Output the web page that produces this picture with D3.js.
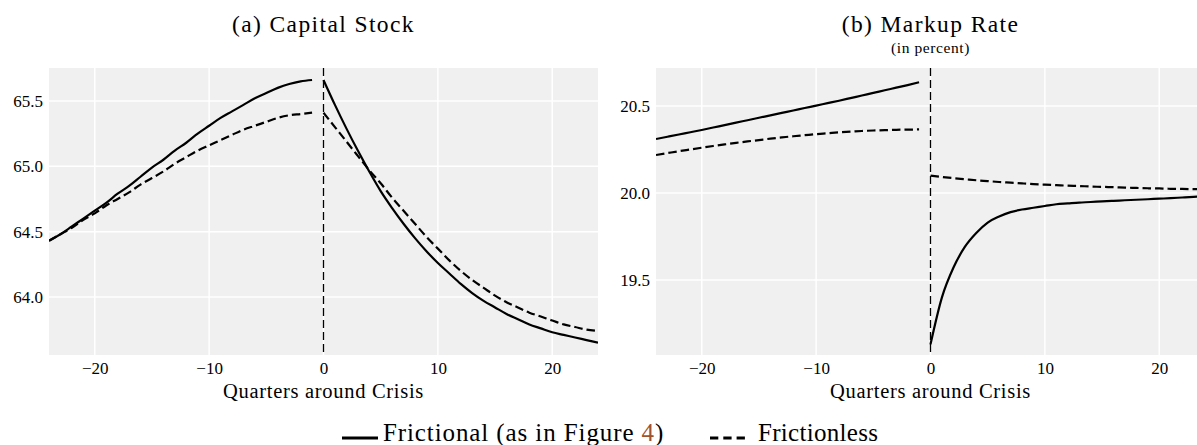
<!DOCTYPE html>
<html><head><meta charset="utf-8">
<script src="https://cdn.jsdelivr.net/npm/d3@7"></script>
<style>
body{margin:0;background:#fff}
svg{display:block}
text{font-family:"Liberation Serif","Times New Roman",serif;fill:#000}
</style>
</head><body>
<svg id="chart" width="1197" height="445"></svg>
<script>
// ---------- data ----------
const quartersPre  = [-24,-23,-22,-21,-20,-19,-18,-17,-16,-15,-14,-13,-12,-11,-10,-9,-8,-7,-6,-5,-4,-3,-2,-1];
const quartersPost = [0,1,2,3,4,5,6,7,8,9,10,11,12,13,14,15,16,17,18,19,20,21,22,23,24];

const capitalFrictionalPre  = [64.43,64.48,64.54,64.60,64.66,64.72,64.79,64.85,64.92,64.99,65.05,65.12,65.18,65.25,65.31,65.37,65.42,65.47,65.52,65.56,65.60,65.63,65.65,65.66];
const capitalFrictionlessPre= [64.43,64.48,64.53,64.59,64.64,64.70,64.75,64.80,64.86,64.91,64.96,65.02,65.07,65.12,65.16,65.20,65.24,65.28,65.31,65.34,65.37,65.39,65.40,65.41];
const capitalFrictionalPost = [65.66,65.47,65.29,65.12,64.96,64.81,64.68,64.56,64.45,64.35,64.26,64.18,64.10,64.03,63.97,63.92,63.87,63.83,63.79,63.76,63.73,63.71,63.69,63.67,63.65];
const capitalFrictionlessPost=[65.41,65.30,65.19,65.08,64.97,64.87,64.76,64.66,64.56,64.46,64.37,64.28,64.20,64.13,64.07,64.01,63.96,63.92,63.88,63.85,63.82,63.79,63.77,63.75,63.74];

const markupFrictionalPre   = [20.310,20.323,20.336,20.349,20.362,20.376,20.390,20.404,20.418,20.432,20.446,20.460,20.474,20.488,20.502,20.516,20.530,20.545,20.560,20.575,20.590,20.605,20.620,20.636];
const markupFrictionlessPre = [20.218,20.229,20.240,20.250,20.260,20.270,20.279,20.288,20.296,20.304,20.312,20.319,20.326,20.332,20.338,20.343,20.348,20.352,20.356,20.359,20.361,20.363,20.364,20.365];
const markupFrictionalPost  = [19.13,19.40,19.57,19.69,19.77,19.83,19.865,19.89,19.905,19.915,19.925,19.935,19.94,19.945,19.948,19.952,19.955,19.958,19.961,19.964,19.967,19.970,19.974,19.978,19.981];
const markupFrictionlessPost= [20.100,20.092,20.085,20.079,20.073,20.068,20.063,20.059,20.055,20.051,20.048,20.045,20.042,20.040,20.037,20.035,20.033,20.031,20.029,20.027,20.026,20.024,20.023,20.022,20.021];

const xTicks = [-20,-10,0,10,20];
const capitalTicks = [64.0,64.5,65.0,65.5];
const markupTicks = [19.5,20.0,20.5];

const titles = ["(a) Capital Stock","(b) Markup Rate"];
const subtitles = ["","(in percent)"];
const xLabel = "Quarters around Crisis";
const legendLabels = ["Frictional (as in Figure ","4",")","Frictionless"];

// ---------- layout ----------
const svg = d3.select("#chart");
const plotTop = 68, plotBottom = 355;
const panels = [
  {x0:49, x1:598, domain:[63.556,65.752], ticks:capitalTicks, title:titles[0], sub:subtitles[0],
   series:[[capitalFrictionalPre,capitalFrictionalPost,false],[capitalFrictionlessPre,capitalFrictionlessPost,true]]},
  {x0:656, x1:1205, domain:[19.069,20.718], ticks:markupTicks, title:titles[1], sub:subtitles[1],
   series:[[markupFrictionalPre,markupFrictionalPost,false],[markupFrictionlessPre,markupFrictionlessPost,true]]}
];

panels.forEach((p,i)=>{
  const x = d3.scaleLinear().domain([-24,24]).range([p.x0,p.x1]);
  const y = d3.scaleLinear().domain(p.domain).range([plotBottom,plotTop]);
  const g = svg.append("g");
  const clipId = "clip"+i;
  svg.append("clipPath").attr("id",clipId).append("rect")
    .attr("x",p.x0).attr("y",plotTop).attr("width",p.x1-p.x0).attr("height",plotBottom-plotTop);

  g.append("rect").attr("x",p.x0).attr("y",plotTop).attr("width",p.x1-p.x0).attr("height",plotBottom-plotTop)
    .attr("fill","#f0f0f0");

  g.selectAll(".gx").data(xTicks).join("line")
    .attr("x1",d=>x(d)).attr("x2",d=>x(d)).attr("y1",plotTop).attr("y2",plotBottom)
    .attr("stroke","#fff").attr("stroke-width",1.5);
  g.selectAll(".gy").data(p.ticks).join("line")
    .attr("x1",p.x0).attr("x2",p.x1).attr("y1",d=>y(d)).attr("y2",d=>y(d))
    .attr("stroke","#fff").attr("stroke-width",1.5);

  const xa = g.append("g").attr("transform",`translate(0,${plotBottom})`)
    .call(d3.axisBottom(x).tickValues(xTicks).tickSize(0).tickPadding(7)
      .tickFormat(d=>d<0?"\u2212"+Math.abs(d):String(d)));
  xa.select(".domain").remove();
  xa.selectAll("text").attr("font-size",17).attr("font-family","Liberation Serif").attr("fill","#000");
  const ya = g.append("g").attr("transform",`translate(${p.x0},0)`)
    .call(d3.axisLeft(y).tickValues(p.ticks).tickSize(0).tickPadding(6).tickFormat(d3.format(".1f")));
  ya.select(".domain").remove();
  ya.selectAll("text").attr("font-size",17).attr("font-family","Liberation Serif").attr("fill","#000");

  const lines = g.append("g").attr("clip-path",`url(#${clipId})`);
  lines.append("line").attr("x1",x(0)).attr("x2",x(0)).attr("y1",plotTop).attr("y2",plotBottom)
    .attr("stroke","#000").attr("stroke-width",1.3).attr("stroke-dasharray","8,4");

  const line = d3.line().curve(d3.curveMonotoneX).x(d=>x(d[0])).y(d=>y(d[1]));
  p.series.forEach(([pre,post,dashed])=>{
    [[quartersPre,pre],[quartersPost,post]].forEach(([qs,vals])=>{
      lines.append("path").datum(qs.map((q,k)=>[q,vals[k]]))
        .attr("d",line).attr("fill","none").attr("stroke","#000").attr("stroke-width",2.2)
        .attr("stroke-dasharray",dashed?"8.5,4":null);
    });
  });

  const cx = (p.x0+p.x1)/2;
  svg.append("text").attr("x",cx).attr("y",32).attr("text-anchor","middle")
    .attr("font-size",23.5).attr("letter-spacing",1.4).text(p.title);
  if(p.sub) svg.append("text").attr("x",cx).attr("y",53).attr("text-anchor","middle")
    .attr("font-size",15.5).attr("letter-spacing",0.6).text(p.sub);
  svg.append("text").attr("x",cx).attr("y",398).attr("text-anchor","middle")
    .attr("font-size",20.5).attr("letter-spacing",0.7).text(xLabel);
});

// legend
const ly = 441;
svg.append("line").attr("x1",342).attr("x2",378).attr("y1",ly-3).attr("y2",ly-3)
  .attr("stroke","#000").attr("stroke-width",3.2);
const t1 = svg.append("text").attr("x",383).attr("y",ly).attr("font-size",25).attr("letter-spacing",0.9);
t1.append("tspan").text(legendLabels[0]);
t1.append("tspan").style("fill","#a0522d").text(legendLabels[1]);
t1.append("tspan").text(legendLabels[2]);
svg.append("line").attr("x1",710).attr("x2",749).attr("y1",ly-3).attr("y2",ly-3)
  .attr("stroke","#000").attr("stroke-width",3.2).attr("stroke-dasharray","8.3,5");
svg.append("text").attr("x",758).attr("y",ly).attr("font-size",25).attr("letter-spacing",0.3).text(legendLabels[3]);
</script>
</body></html>
